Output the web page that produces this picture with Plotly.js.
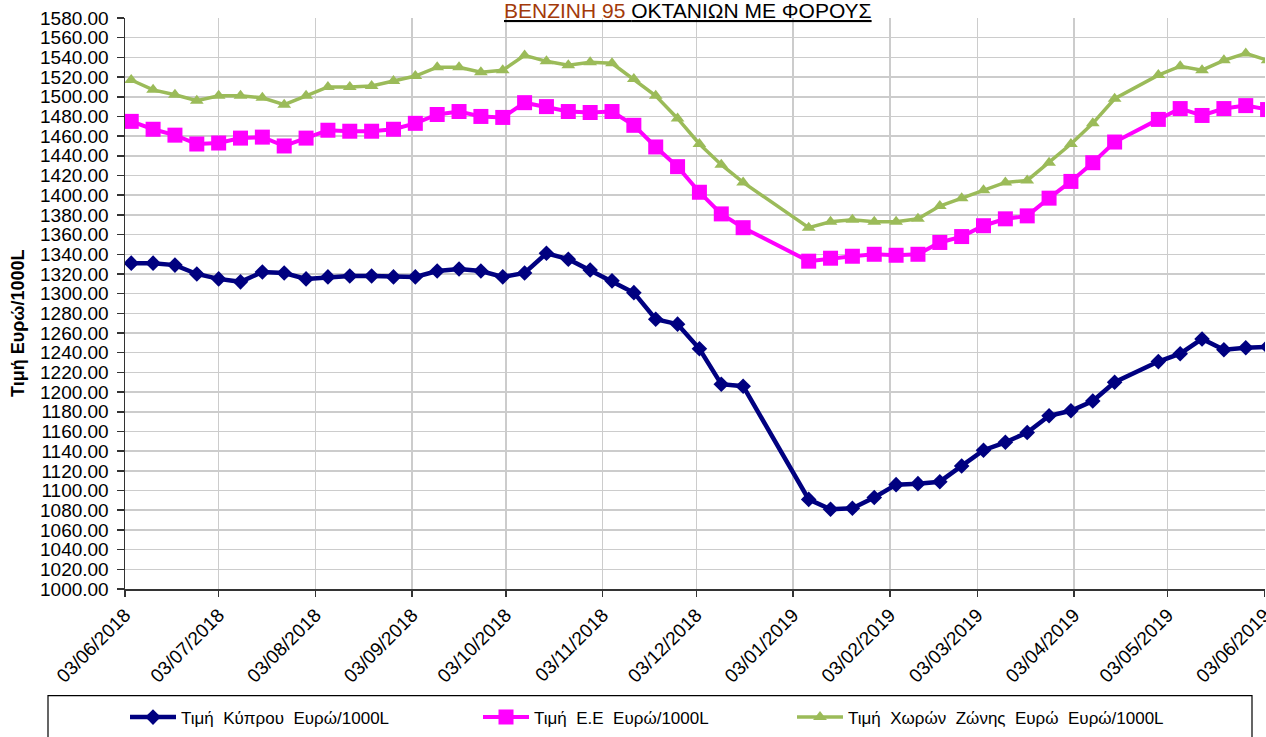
<!DOCTYPE html>
<html>
<head>
<meta charset="utf-8">
<script src="https://cdn.plot.ly/plotly-3.0.1.min.js"></script>
<style>html,body{margin:0;padding:0;background:#fff;}#chart{width:1266px;height:737px;}</style>
</head>
<body>
<div id="chart"></div>
<script>
// Weekly dates (Tuesdays); no data for 25/12/2018, 01/01/2019, 23/04/2019
const dates = [
  '2018-06-05','2018-06-12','2018-06-19','2018-06-26','2018-07-03','2018-07-10','2018-07-17','2018-07-24','2018-07-31',
  '2018-08-07','2018-08-14','2018-08-21','2018-08-28','2018-09-04','2018-09-11','2018-09-18','2018-09-25',
  '2018-10-02','2018-10-09','2018-10-16','2018-10-23','2018-10-30','2018-11-06','2018-11-13','2018-11-20','2018-11-27',
  '2018-12-04','2018-12-11','2018-12-18',
  '2019-01-08','2019-01-15','2019-01-22','2019-01-29','2019-02-05','2019-02-12','2019-02-19','2019-02-26',
  '2019-03-05','2019-03-12','2019-03-19','2019-03-26','2019-04-02','2019-04-09','2019-04-16',
  '2019-04-30','2019-05-07','2019-05-14','2019-05-21','2019-05-28','2019-06-04'
];
const cyprus = [
  1331,1331,1329,1320,1315,1312,1322,1321,1315,
  1317,1318,1318,1317,1317,1323,1325,1323,
  1317,1321,1341,1335,1324,1313,1301,1274,1269,
  1244,1208,1206,
  1091,1081,1082,1093,1106,1107,1109,1125,
  1141,1149,1159,1176,1181,1191,1210,
  1231,1239,1254,1243,1245,1246
];
const eu = [
  1475,1467,1461,1452,1453,1458,1459,1450,1458,
  1466,1465,1465,1467,1473,1482,1485,1480,
  1479,1494,1490,1485,1484,1485,1471,1449,1429,
  1403,1381,1367,
  1333,1336,1338,1340,1339,1340,1352,1358,
  1369,1376,1379,1397,1414,1433,1454,
  1477,1488,1481,1488,1491,1487
];
const euroZone = [
  1517,1507,1502,1496,1501,1501,1499,1492,1501,
  1510,1510,1511,1516,1521,1530,1530,1525,
  1527,1542,1536,1532,1535,1534,1518,1501,1478,
  1452,1431,1413,
  1367,1373,1375,1373,1373,1376,1389,1397,
  1405,1413,1415,1433,1452,1473,1498,
  1522,1531,1527,1537,1544,1537
];
const tickDates = ['2018-06-03','2018-07-03','2018-08-03','2018-09-03','2018-10-03','2018-11-03','2018-12-03',
  '2019-01-03','2019-02-03','2019-03-03','2019-04-03','2019-05-03','2019-06-03'];
const tickLabels = ['03/06/2018','03/07/2018','03/08/2018','03/09/2018','03/10/2018','03/11/2018','03/12/2018',
  '03/01/2019','03/02/2019','03/03/2019','03/04/2019','03/05/2019','03/06/2019'];
const seriesNames = ['Τιμή  Κύπρου  Ευρώ/1000L', 'Τιμή  Ε.Ε  Ευρώ/1000L', 'Τιμή  Χωρών  Ζώνης  Ευρώ  Ευρώ/1000L'];
const titleRed = 'BENZINH 95 ';
const titleBlack = 'ΟΚΤΑΝΙΩΝ ΜΕ ΦΟΡΟΥΣ';
const yTitle = 'Τιμή Ευρώ/1000L';

const FONT = 'Liberation Sans, Arial, sans-serif';

const traces = [
  {x: dates, y: cyprus, name: seriesNames[0], type: 'scatter', mode: 'lines+markers',
   line: {color: '#000080', width: 4.5}, marker: {symbol: 'diamond', size: 12, color: '#000080'}, legend: 'legend'},
  {x: dates, y: eu, name: seriesNames[1], type: 'scatter', mode: 'lines+markers',
   line: {color: '#ff00ff', width: 4}, marker: {symbol: 'square', size: 15, color: '#ff00ff'}, legend: 'legend2'},
  {x: dates, y: euroZone, name: seriesNames[2], type: 'scatter', mode: 'lines+markers',
   line: {color: '#9bbb59', width: 3.5}, marker: {symbol: 'triangle-up', size: 12, color: '#9bbb59'}, legend: 'legend3'}
];

const L = 125, R = 1, T = 18, B = 146, W = 1266, H = 737;
const pw = W - L - R, ph = H - T - B;
const px = v => (v - L) / pw;
const py = v => (H - B - v) / ph;

const legendCommon = {orientation: 'h', bgcolor: 'rgba(0,0,0,0)', borderwidth: 0, itemwidth: 46,
  font: {family: FONT, size: 17, color: '#000'}, xanchor: 'left', yanchor: 'middle', y: py(720)};

const layout = {
  width: W, height: H,
  margin: {l: L, r: R, t: T, b: B, pad: 0},
  paper_bgcolor: '#fff', plot_bgcolor: '#fff',
  font: {family: FONT, color: '#000'},
  showlegend: true,
  legend: Object.assign({}, legendCommon, {x: px(125)}),
  legend2: Object.assign({}, legendCommon, {x: px(478)}),
  legend3: Object.assign({}, legendCommon, {x: px(792)}),
  xaxis: {
    type: 'date', range: ['2018-06-03', '2019-06-03 04:00'],
    tickmode: 'array', tickvals: tickDates, ticktext: tickLabels, tickangle: -45,
    ticklabeloverflow: 'allow',
    showgrid: true, gridcolor: '#cccccc', gridwidth: 1.5,
    showline: true, linecolor: '#333', linewidth: 1.5,
    ticks: 'outside', ticklen: 6, tickcolor: '#333', tickwidth: 1.5,
    tickfont: {family: FONT, size: 19, color: '#000'}, zeroline: false, fixedrange: true
  },
  yaxis: {
    range: [1000, 1580], dtick: 20, tick0: 1000, tickformat: '.2f',
    showgrid: true, gridcolor: '#cccccc', gridwidth: 1.5,
    showline: true, linecolor: '#333', linewidth: 1.5,
    ticks: 'outside', ticklen: 7, tickcolor: '#333', tickwidth: 1.5, ticklabelstandoff: 4,
    tickfont: {family: FONT, size: 19, color: '#000'}, zeroline: false, fixedrange: true
  },
  annotations: [
    {xref: 'paper', yref: 'paper', x: px(688), y: py(10), xanchor: 'center', yanchor: 'middle', showarrow: false,
     text: '<span style="color:#a33a0a">' + titleRed + '</span>' + titleBlack,
     font: {family: FONT, size: 21, color: '#000', lineposition: 'under'}},
    {xref: 'paper', yref: 'paper', x: px(18), y: py(324), xanchor: 'center', yanchor: 'middle', showarrow: false,
     textangle: -90, text: '<b>' + yTitle + '</b>', font: {family: FONT, size: 18, color: '#000'}}
  ],
  shapes: [
    {type: 'rect', xref: 'paper', yref: 'paper', x0: px(48), x1: px(1252), y0: py(698), y1: py(760),
     line: {color: '#000', width: 1.2}, fillcolor: 'rgba(0,0,0,0)'}
  ]
};

Plotly.newPlot('chart', traces, layout, {displayModeBar: false, staticPlot: true});
</script>
</body>
</html>
